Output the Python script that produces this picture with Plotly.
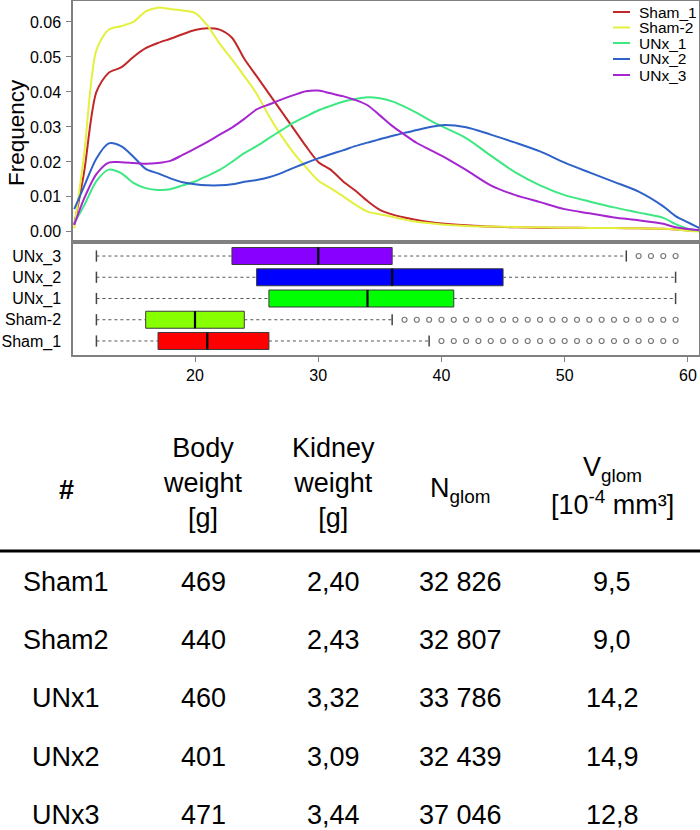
import plotly.graph_objects as go

# ---------------- data ----------------
series_names = ["Sham_1", "Sham-2", "UNx_1", "UNx_2", "UNx_3"]
line_colors = ["#C0282A", "#E3F03C", "#3DE882", "#2E62C8", "#A526D0"]

x_grid = [10.2, 11, 12, 13, 14, 15, 16, 17, 18, 19, 20, 21, 22, 23, 24, 25, 26, 27, 28, 29,
          30, 31, 32, 33, 34, 35, 36, 37, 38, 39, 40, 42, 44, 46, 48, 50, 52, 54, 56, 58,
          59, 60, 61]

sham_1 = [0.002, 0.017, 0.040, 0.0455, 0.047, 0.050, 0.0525, 0.054, 0.0552, 0.0565, 0.0577,
          0.0582, 0.0578, 0.0555, 0.0495, 0.0445, 0.0395, 0.0345, 0.0295, 0.0245, 0.020,
          0.0178, 0.0145, 0.0118, 0.0088, 0.0063, 0.005, 0.0041, 0.0034, 0.0028, 0.0024,
          0.0019, 0.0015, 0.0013, 0.0012, 0.0012, 0.0011, 0.0011, 0.0010, 0.0009, 0.0007,
          0.0004, 0.0002]
sham_2 = [0.001, 0.022, 0.052, 0.0578, 0.0588, 0.060, 0.063, 0.0641, 0.0637, 0.0633, 0.0626,
          0.059, 0.0538, 0.0493, 0.0445, 0.0395, 0.0332, 0.0275, 0.0226, 0.0185, 0.0147,
          0.0125, 0.0102, 0.0078, 0.0058, 0.0050, 0.0043, 0.0035, 0.0029, 0.0025, 0.0021,
          0.0017, 0.0015, 0.0014, 0.0013, 0.0012, 0.0011, 0.0011, 0.0010, 0.0009, 0.0007,
          0.0003, 0.0001]
unx_1 = [0.0025, 0.0075, 0.0145, 0.0178, 0.0168, 0.014, 0.0125, 0.012, 0.0122, 0.0133, 0.0144,
         0.016, 0.0177, 0.020, 0.0225, 0.0245, 0.0268, 0.029, 0.0312, 0.033, 0.0347,
         0.036, 0.0372, 0.038, 0.0385, 0.0382, 0.0373, 0.0358, 0.034, 0.032, 0.0302,
         0.0268, 0.0218, 0.017, 0.0133, 0.0105, 0.0087, 0.0070, 0.0055, 0.0040, 0.0022,
         0.0009, 0.0004]
unx_2 = [0.0065, 0.013, 0.021, 0.0253, 0.0245, 0.0215, 0.018, 0.0167, 0.0153, 0.0142, 0.0136,
         0.0133, 0.0133, 0.0136, 0.0143, 0.0148, 0.0156, 0.0168, 0.0183, 0.0197, 0.021,
         0.0222, 0.0233, 0.0245, 0.0255, 0.0265, 0.0274, 0.0283, 0.0291, 0.0299, 0.0305,
         0.0299, 0.0278, 0.0255, 0.0230, 0.0198, 0.0170, 0.0143, 0.0115, 0.0073, 0.0045,
         0.0027, 0.001]
unx_3 = [0.002, 0.0095, 0.0165, 0.0198, 0.0199, 0.0197, 0.0195, 0.0197, 0.0203, 0.022, 0.0238,
         0.0257, 0.0278, 0.0298, 0.0323, 0.0350, 0.0364, 0.0378, 0.0391, 0.0402, 0.0404,
         0.0396, 0.0388, 0.0377, 0.0362, 0.0333, 0.0303, 0.0278, 0.0254, 0.0236, 0.0218,
         0.0177, 0.0133, 0.0105, 0.0085, 0.0065, 0.0053, 0.0041, 0.0033, 0.0023, 0.0013,
         0.0008, 0.0004]
density = [sham_1, sham_2, unx_1, unx_2, unx_3]

# box plot (bottom panel), order bottom -> top
box_names = ["Sham_1", "Sham-2", "UNx_1", "UNx_2", "UNx_3"]
box_colors = ["#FF0000", "#88FF00", "#00FF00", "#0000FF", "#8800FF"]
box_lower = [12, 12, 12, 12, 12]
box_q1 = [17, 16, 26, 25, 23]
box_median = [21, 20, 34, 36, 30]
box_q3 = [26, 24, 41, 45, 36]
box_upper = [39, 36, 59, 59, 55]
box_outliers = [list(range(40, 60)), list(range(37, 60)), [], [], [56, 57, 58, 59]]

x_ticks = [20, 30, 40, 50, 60]
y_ticks = [0.00, 0.01, 0.02, 0.03, 0.04, 0.05, 0.06]

# table
table_rows = ["Sham1", "Sham2", "UNx1", "UNx2", "UNx3"]
body_weight = [469, 440, 460, 401, 471]
kidney_weight = [2.40, 2.43, 3.32, 3.09, 3.44]
n_glom = [32826, 32807, 33786, 32439, 37046]
v_glom = [9.5, 9.0, 14.2, 14.9, 12.8]
table_headers = ["<b>#</b>", "Body<br>weight<br>[g]", "Kidney<br>weight<br>[g]",
                 "N<sub>glom</sub>", "V<sub>glom</sub>", "[10<sup>-4</sup> mm³]"]

# ---------------- layout helpers ----------------
W, H = 700, 830
FONT = "Liberation Sans, Arial, sans-serif"


def px(x):
    return x / W


def py(y):
    return 1 - y / H


AX_L, AX_R = 73, 699
TOP_T, SEP, BOT_B = 1, 242, 355
BOX_W = 0.8
GRAY = "#808080"

fig = go.Figure()

# density curves
for name, col, vals in zip(series_names, line_colors, density):
    fig.add_trace(go.Scatter(x=x_grid, y=vals, mode="lines", name=name,
                             line=dict(color=col, width=2, shape="spline", smoothing=0.8),
                             xaxis="x2", yaxis="y", showlegend=False))

positions = list(range(1, len(box_names) + 1))

# whiskers
wx, wy, cx, cy = [], [], [], []
for p, lo, q1, q3, hi in zip(positions, box_lower, box_q1, box_q3, box_upper):
    wx += [lo, q1, None, q3, hi, None]
    wy += [p, p, None, p, p, None]
    cx += [lo, hi]
    cy += [p, p]
fig.add_trace(go.Scatter(x=wx, y=wy, mode="lines", line=dict(color="#555555", width=1, dash="dot"),
                         xaxis="x", yaxis="y2", showlegend=False, hoverinfo="skip"))
fig.add_trace(go.Scatter(x=cx, y=cy, mode="markers",
                         marker=dict(symbol="line-ns", size=8, line=dict(color="#444444", width=1.5)),
                         xaxis="x", yaxis="y2", showlegend=False, hoverinfo="skip"))

# boxes
for p, name, col, q1, med, q3 in zip(positions, box_names, box_colors, box_q1, box_median, box_q3):
    fig.add_trace(go.Box(y=[p], q1=[q1], median=[med], q3=[q3], lowerfence=[q1], upperfence=[q3],
                         orientation="h", name=name, fillcolor=col, width=BOX_W, whiskerwidth=0,
                         line=dict(color="#3a3a3a", width=1), boxpoints=False,
                         xaxis="x", yaxis="y2", showlegend=False))

# medians
mx, my = [], []
for p, med in zip(positions, box_median):
    mx += [med, med, None]
    my += [p - BOX_W / 2, p + BOX_W / 2, None]
fig.add_trace(go.Scatter(x=mx, y=my, mode="lines", line=dict(color="black", width=2.2),
                         xaxis="x", yaxis="y2", showlegend=False, hoverinfo="skip"))

# outliers
ox, oy = [], []
for p, outs in zip(positions, box_outliers):
    ox += outs
    oy += [p] * len(outs)
fig.add_trace(go.Scatter(x=ox, y=oy, mode="markers",
                         marker=dict(symbol="circle-open", size=5, color="#777777", line=dict(width=1.2)),
                         xaxis="x", yaxis="y2", showlegend=False))

axis_common = dict(showline=True, mirror=True, linecolor=GRAY, linewidth=1.5, showgrid=False,
                   zeroline=False, tickfont=dict(size=16, color="black", family=FONT))

fig.update_layout(
    width=W, height=H,
    margin=dict(l=0, r=0, t=0, b=0),
    paper_bgcolor="white", plot_bgcolor="white",
    font=dict(family=FONT, color="black"),
    xaxis=dict(domain=[px(AX_L), px(AX_R)], anchor="y2", range=[10.1, 60.9],
               tickvals=x_ticks, ticks="outside", ticklen=5, tickcolor=GRAY, **axis_common),
    xaxis2=dict(domain=[px(AX_L), px(AX_R)], anchor="y", matches="x", showticklabels=False,
                ticks="", **axis_common),
    yaxis=dict(domain=[py(SEP), py(TOP_T)], anchor="x2", range=[-0.0029, 0.066],
               tickvals=y_ticks, tickformat=".2f", ticks="outside", ticklen=5, tickcolor=GRAY,
               ticklabelstandoff=2, **axis_common),
    yaxis2=dict(domain=[py(BOT_B), py(SEP)], anchor="x", range=[0.34, 5.66],
                tickvals=positions, ticktext=box_names, ticks="outside", ticklen=5,
                tickcolor="rgba(0,0,0,0)", ticklabelstandoff=2, **axis_common),
)

annotations = []
shapes = []

# y-axis title
annotations.append(dict(text="Frequency", x=px(17), y=py(133), xref="paper", yref="paper",
                        xanchor="center", yanchor="middle",
                        textangle=-90, showarrow=False, font=dict(size=22.5, family=FONT)))

# legend
leg_y = [12, 27.5, 43, 59, 75]
for name, col, ly in zip(series_names, line_colors, leg_y):
    shapes.append(dict(type="line", xref="paper", yref="paper", x0=px(613), x1=px(630),
                       y0=py(ly), y1=py(ly), line=dict(color=col, width=2)))
    annotations.append(dict(text=name, x=px(637), y=py(ly), xref="paper", yref="paper",
                            xanchor="left", yanchor="middle", showarrow=False,
                            font=dict(size=15.5, family=FONT)))

# table
col_x = [66, 203, 333, 460, 612]
row_y = [582, 640, 698, 757, 815]
TFONT = dict(size=27, family=FONT, color="black")
header_pos = [(col_x[0], 490), (col_x[1], 483), (col_x[2], 483), (col_x[3], 490),
              (col_x[4], 469), (col_x[4], 503)]
for txt, (hx, hy) in zip(table_headers, header_pos):
    annotations.append(dict(text=txt, x=px(hx), y=py(hy), xref="paper", yref="paper",
                            xanchor="center", yanchor="middle", showarrow=False, font=TFONT))

shapes.append(dict(type="line", xref="paper", yref="paper", x0=0, x1=1, y0=py(551), y1=py(551),
                   line=dict(color="black", width=3)))

for i, ry in enumerate(row_y):
    cells = [table_rows[i],
             str(body_weight[i]),
             f"{kidney_weight[i]:.2f}".replace(".", ","),
             f"{n_glom[i]:,}".replace(",", " "),
             f"{v_glom[i]:.1f}".replace(".", ",")]
    for cx_, txt in zip(col_x, cells):
        annotations.append(dict(text=txt, x=px(cx_), y=py(ry), xref="paper", yref="paper",
                                xanchor="center", yanchor="middle", showarrow=False, font=TFONT))

fig.update_layout(annotations=annotations, shapes=shapes)

fig.write_html("out.html", config={"displayModeBar": False},
               post_script="document.body.style.margin='0';document.body.style.overflow='hidden';")
